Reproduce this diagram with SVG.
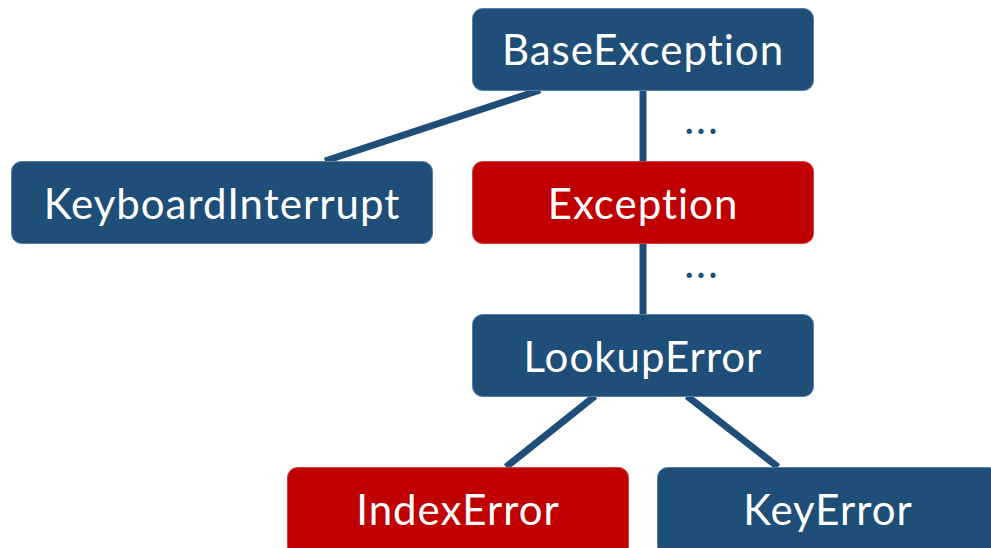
<svg xmlns="http://www.w3.org/2000/svg" width="991" height="548" viewBox="0 0 991 548">
<style>
.box{stroke:#5a7fa6;stroke-width:1}
.blue{fill:#1F4E79}
.red{fill:#C00000;stroke:#d04040}
.lbl{font-family:Lato,"Open Sans",sans-serif;font-size:42px;letter-spacing:1px;font-variant-ligatures:none;fill:#ffffff;text-anchor:middle}
.dots{font-family:Lato,"Open Sans",sans-serif;font-size:42px;letter-spacing:2px;fill:#1F4E79;text-anchor:middle}
.edge{stroke:#1F4E79;stroke-width:7;fill:none}
</style>
<rect width="991" height="548" fill="#ffffff"/>
<g id="connectors">
<line class="edge" x1="540" y1="90" x2="325" y2="161"/>
<line class="edge" x1="643" y1="90" x2="643" y2="314"/>
<line class="edge" x1="595" y1="396" x2="506" y2="467"/>
<line class="edge" x1="687" y1="396" x2="778" y2="467"/>
<text class="dots" x="702" y="134">...</text>
<text class="dots" x="702" y="278">...</text>
</g>
<g id="BaseException">
<rect class="box blue" x="472.5" y="8.5" width="341" height="82" rx="10"/>
<text class="lbl" x="643" y="65">BaseException</text>
</g>
<g id="KeyboardInterrupt">
<rect class="box blue" x="11.5" y="161.5" width="421" height="82" rx="10"/>
<text class="lbl" x="222" y="219">KeyboardInterrupt</text>
</g>
<g id="Exception">
<rect class="box red" x="472.5" y="161.5" width="341" height="82" rx="10"/>
<text class="lbl" x="643" y="219">Exception</text>
</g>
<g id="LookupError">
<rect class="box blue" x="472.5" y="314.5" width="341" height="82" rx="10"/>
<text class="lbl" x="643" y="372">LookupError</text>
</g>
<g id="IndexError">
<rect class="box red" x="287.5" y="467.5" width="341" height="90" rx="10"/>
<text class="lbl" x="458" y="525">IndexError</text>
</g>
<g id="KeyError">
<rect class="box blue" x="657.5" y="467.5" width="341" height="90" rx="10"/>
<text class="lbl" x="828" y="525">KeyError</text>
</g>
</svg>
